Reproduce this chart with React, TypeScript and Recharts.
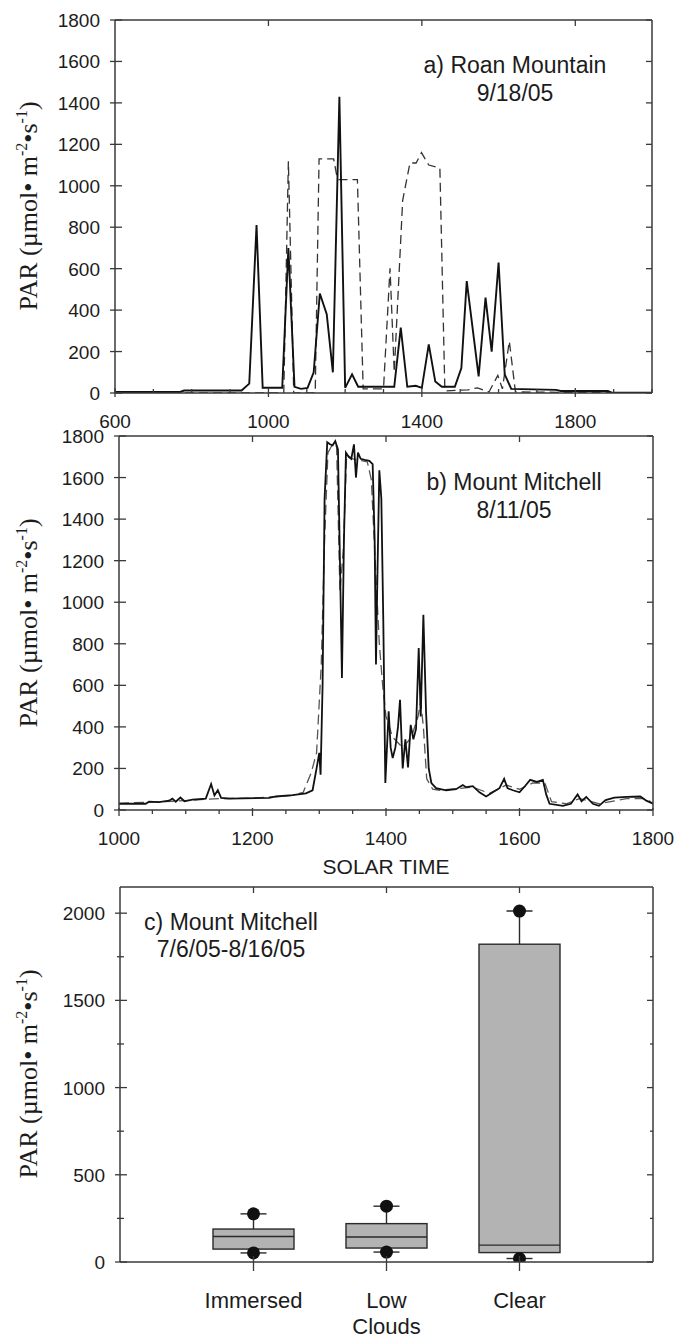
import React from 'react';
import { LineChart, Line, XAxis, YAxis, ComposedChart, Bar, Customized } from 'recharts';

const SANS = '"Liberation Sans", Arial, Helvetica, sans-serif';
const SERIF = '"Liberation Serif", "Times New Roman", Times, serif';
const INK = '#1c1c1c';
const AXIS = '#3a3a3a';

// ---------- Panel a: Roan Mountain 9/18/05 ----------
const roanSolidTime = [600, 770, 780, 930, 950, 969, 985, 1036, 1052, 1068, 1085, 1102, 1118, 1134, 1152, 1168, 1185, 1200, 1218, 1234, 1328, 1345, 1362, 1384, 1400, 1418, 1435, 1452, 1486, 1503, 1517, 1548, 1566, 1582, 1600, 1616, 1633, 1750, 1762, 1885, 1895, 2000];
const roanSolidPAR = [5, 5, 12, 12, 45, 810, 25, 25, 700, 30, 20, 25, 100, 480, 380, 100, 1430, 25, 90, 30, 30, 315, 30, 35, 25, 235, 55, 30, 30, 120, 540, 80, 460, 200, 630, 90, 20, 15, 10, 10, 2, 2];
const roanDashedTime = [600, 1040, 1052, 1058, 1066, 1122, 1132, 1170, 1178, 1182, 1232, 1247, 1300, 1317, 1328, 1350, 1369, 1385, 1399, 1418, 1447, 1460, 1520, 1545, 1575, 1598, 1610, 1628, 1644, 2000];
const roanDashedPAR = [0, 0, 1118, 650, 0, 0, 1130, 1130, 1050, 1030, 1030, 20, 20, 602, 100, 930, 1110, 1110, 1160, 1100, 1085, 10, 15, 25, 5, 85, 20, 250, 5, 0];
const roanXMajor = [600, 1000, 1400, 1800];
const roanXTicks = [600, 700, 800, 900, 1000, 1100, 1200, 1300, 1400, 1500, 1600, 1700, 1800, 1900, 2000];
const roanYTicks = [0, 200, 400, 600, 800, 1000, 1200, 1400, 1600, 1800];

// ---------- Panel b: Mount Mitchell 8/11/05 ----------
const mitchSolidTime = [1000, 1040, 1045, 1060, 1075, 1080, 1085, 1092, 1098, 1110, 1130, 1138, 1143, 1148, 1153, 1165, 1225, 1235, 1260, 1280, 1290, 1296, 1300, 1302, 1305, 1308, 1312, 1316, 1320, 1324, 1328, 1331, 1334, 1337, 1340, 1344, 1348, 1352, 1355, 1358, 1362, 1368, 1375, 1380, 1383, 1385, 1387, 1390, 1393, 1396, 1399, 1404, 1407, 1410, 1414, 1418, 1421, 1425, 1429, 1433, 1437, 1441, 1445, 1449, 1452, 1456, 1460, 1464, 1468, 1475, 1490, 1505, 1515, 1520, 1530, 1540, 1550, 1560, 1570, 1577, 1582, 1590, 1600, 1609, 1616, 1626, 1635, 1640, 1645, 1665, 1677, 1687, 1693, 1700, 1710, 1719, 1729, 1742, 1761, 1781, 1790, 1800];
const mitchSolidPAR = [30, 30, 40, 38, 45, 55, 40, 60, 42, 50, 55, 125, 70, 95, 58, 55, 58, 65, 72, 80, 95, 200, 275, 170, 600, 1500, 1770, 1760, 1755, 1775, 1735, 1200, 635, 1300, 1720, 1700, 1690, 1760, 1600, 1720, 1690, 1685, 1680, 1665, 1300, 700, 1100, 1635, 1500, 900, 130, 475, 300, 250, 300, 400, 530, 200, 340, 205, 410, 340, 390, 780, 450, 940, 470, 200, 130, 105, 95, 100, 120, 110, 115, 85, 65, 85, 105, 150, 105, 95, 85, 118, 145, 135, 145, 75, 30, 20, 30, 75, 42, 63, 30, 20, 48, 60, 63, 65, 45, 30];
const mitchDashedTime = [1000, 1080, 1150, 1200, 1260, 1276, 1288, 1296, 1303, 1308, 1313, 1320, 1326, 1331, 1336, 1341, 1350, 1365, 1372, 1378, 1385, 1390, 1395, 1400, 1410, 1425, 1438, 1448, 1452, 1456, 1461, 1470, 1480, 1530, 1555, 1580, 1600, 1620, 1638, 1648, 1670, 1690, 1720, 1760, 1790, 1800];
const mitchDashedPAR = [32, 42, 55, 57, 70, 85, 180, 275, 700, 1300, 1720, 1760, 1750, 1050, 1250, 1710, 1690, 1680, 1675, 1590, 1120, 800, 600, 450, 350, 300, 350, 450, 520, 400, 150, 100, 95, 110, 80, 120, 100, 130, 130, 40, 30, 55, 30, 55, 55, 30];
const mitchXMajor = [1000, 1200, 1400, 1600, 1800];
const mitchXTicks = [1000, 1050, 1100, 1150, 1200, 1250, 1300, 1350, 1400, 1450, 1500, 1550, 1600, 1650, 1700, 1750, 1800];
const mitchYTicks = [0, 200, 400, 600, 800, 1000, 1200, 1400, 1600, 1800];

// ---------- Panel c: Mount Mitchell 7/6/05-8/16/05 ----------
const boxCategories = ['Immersed', 'Low Clouds', 'Clear'];
const boxP5 = [52, 57, 20];
const boxQ1 = [74, 80, 54];
const boxMedian = [146, 143, 97];
const boxQ3 = [189, 220, 1822];
const boxP95 = [276, 320, 2012];
const boxYTicks = [0, 250, 500, 750, 1000, 1250, 1500, 1750, 2000];
const boxYMajor = [0, 500, 1000, 1500, 2000];

const zip = (t: number[], v: number[]) => t.map((x, i) => ({ t: x, v: v[i] }));
const roanSolid = zip(roanSolidTime, roanSolidPAR);
const roanDashed = zip(roanDashedTime, roanDashedPAR);
const mitchSolid = zip(mitchSolidTime, mitchSolidPAR);
const mitchDashed = zip(mitchDashedTime, mitchDashedPAR);
const boxData = boxCategories.map((name, i) => ({
  name,
  range: [boxP5[i], boxP95[i]],
  p5: boxP5[i],
  q1: boxQ1[i],
  med: boxMedian[i],
  q3: boxQ3[i],
  p95: boxP95[i],
}));

const TICK_FS = 19;
const TITLE_FS = 23;

// ---------- tick renderers ----------
const bottomTick = (majors: any[], label: boolean, inMaj: number, outMaj: number, inMin: number, outMin: number) => (p: any) => {
  const { x, y, payload } = p;
  const major = majors.includes(payload.value);
  const a = major ? inMaj : inMin;
  const b = major ? outMaj : outMin;
  return (
    <g>
      <line x1={x} x2={x} y1={y - a} y2={y + b} stroke={AXIS} strokeWidth={1.3} />
      {label && major ? (
        <text x={x} y={y + 35} textAnchor="middle" fontSize={TICK_FS} fontFamily={SANS} fill={INK}>
          {payload.value}
        </text>
      ) : null}
    </g>
  );
};

const catTick = (p: any) => {
  const { x, y, payload } = p;
  const words = String(payload.value).split(' ');
  return (
    <g>
      <line x1={x} x2={x} y1={y - 6} y2={y + 9} stroke={AXIS} strokeWidth={1.3} />
      <text x={x} y={y + 46} textAnchor="middle" fontSize={22} fontFamily={SANS} fill={INK}>
        {words.map((w, i) => (
          <tspan key={i} x={x} dy={i === 0 ? 0 : 26}>
            {w}
          </tspan>
        ))}
      </text>
    </g>
  );
};

const topTick = (majors: any[], len: number, minLen: number) => (p: any) => {
  const { x, y, payload } = p;
  const l = majors.includes(payload.value) ? len : minLen;
  return <line x1={x} x2={x} y1={y} y2={y + l} stroke={AXIS} strokeWidth={1.3} />;
};

const leftTick = (majors: number[]) => (p: any) => {
  const { x, y, payload } = p;
  const major = majors.includes(payload.value);
  return (
    <g>
      <line x1={x - (major ? 5 : 3)} x2={x + (major ? 7 : 4)} y1={y} y2={y} stroke={AXIS} strokeWidth={1.3} />
      {major ? (
        <text x={x - 15} y={y + 7} textAnchor="end" fontSize={TICK_FS} fontFamily={SANS} fill={INK}>
          {payload.value}
        </text>
      ) : null}
    </g>
  );
};

const rightTick = (majors: number[], len: number, minLen: number) => (p: any) => {
  const { x, y, payload } = p;
  const l = majors.includes(payload.value) ? len : minLen;
  return <line x1={x - l} x2={x} y1={y} y2={y} stroke={AXIS} strokeWidth={1.3} />;
};

// ---------- overlay texts ----------
const ParLabel = ({ cy }: { cy: number }) => (
  <text
    transform={`translate(28,${cy}) rotate(-90)`}
    textAnchor="middle"
    dy={9}
    fontFamily={SERIF}
    fontSize={26}
    fill={INK}
  >
    PAR (µmol• m
    <tspan dy={-10} fontSize={16}>-2</tspan>
    <tspan dy={10}>•s</tspan>
    <tspan dy={-10} fontSize={16}>-1</tspan>
    <tspan dy={10}>)</tspan>
  </text>
);

const PanelText = ({ cx, y1, y2, l1, l2, cy, extra }: any) => (
  <g>
    <text x={cx} y={y1} textAnchor="middle" fontSize={TITLE_FS} fontFamily={SANS} fill={INK}>{l1}</text>
    <text x={cx} y={y2} textAnchor="middle" fontSize={TITLE_FS} fontFamily={SANS} fill={INK}>{l2}</text>
    <ParLabel cy={cy} />
    {extra}
  </g>
);

const BoxShape = (props: any) => {
  const { x, y, width, height, payload } = props;
  const top = Math.min(y, y + height);
  const h = Math.abs(height);
  const lo = payload.p5;
  const hi = payload.p95;
  const py = (v: number) => top + (h * (hi - v)) / (hi - lo);
  const cx = x + width / 2;
  const s = { stroke: '#2a2a2a', strokeWidth: 1.4 };
  return (
    <g>
      <line x1={cx} x2={cx} y1={py(hi)} y2={py(payload.q3)} {...s} />
      <line x1={cx} x2={cx} y1={py(payload.q1)} y2={py(lo)} {...s} />
      <line x1={cx - 13} x2={cx + 13} y1={py(hi)} y2={py(hi)} {...s} />
      <line x1={cx - 13} x2={cx + 13} y1={py(lo)} y2={py(lo)} {...s} />
      <rect x={x} y={py(payload.q3)} width={width} height={py(payload.q1) - py(payload.q3)} fill="#b3b3b3" {...s} />
      <line x1={x} x2={x + width} y1={py(payload.med)} y2={py(payload.med)} {...s} />
      <circle cx={cx} cy={py(hi)} r={6.5} fill="#111" />
      <circle cx={cx} cy={py(lo)} r={6.5} fill="#111" />
    </g>
  );
};

const axisLine = { stroke: AXIS, strokeWidth: 1.5 };

export default function App() {
  return (
    <div style={{ position: 'absolute', left: 0, top: 0, width: 684, height: 1340, background: '#fff' }}>
      {/* Panel a */}
      <div style={{ position: 'absolute', left: 0, top: 0 }}>
        <LineChart width={684} height={450} margin={{ top: 19, right: 31, bottom: 27, left: 55 }}>
          <XAxis
            dataKey="t"
            type="number"
            domain={[600, 2000]}
            allowDataOverflow
            ticks={roanXTicks}
            interval={0}
            height={30}
            tickSize={0}
            tickMargin={0}
            tickLine={false}
            axisLine={axisLine}
            tick={bottomTick(roanXMajor, true, 5, 4, 4, 0)}
          />
          <XAxis
            xAxisId="top"
            orientation="top"
            dataKey="t"
            type="number"
            domain={[600, 2000]}
            allowDataOverflow
            ticks={[1000, 1400, 1800]}
            interval={0}
            height={1}
            tickSize={0}
            tickMargin={0}
            tickLine={false}
            axisLine={axisLine}
            tick={topTick([1000, 1400, 1800], 6, 3)}
          />
          <YAxis
            type="number"
            domain={[0, 1800]}
            allowDataOverflow
            ticks={roanYTicks}
            interval={0}
            width={60}
            tickSize={0}
            tickMargin={0}
            tickLine={false}
            axisLine={axisLine}
            tick={leftTick(roanYTicks)}
          />
          <YAxis
            yAxisId="right"
            orientation="right"
            type="number"
            domain={[0, 1800]}
            allowDataOverflow
            ticks={roanYTicks}
            interval={0}
            width={1}
            tickSize={0}
            tickMargin={0}
            tickLine={false}
            axisLine={axisLine}
            tick={rightTick(roanYTicks, 6, 3)}
          />
          <Line data={roanDashed} dataKey="v" type="linear" stroke="#333" strokeWidth={1.3} strokeDasharray="9 5" dot={false} isAnimationActive={false} />
          <Line data={roanSolid} dataKey="v" type="linear" stroke="#111" strokeWidth={1.9} dot={false} isAnimationActive={false} />
          <Customized component={<PanelText cx={515} y1={73} y2={101} l1="a) Roan Mountain" l2="9/18/05" cy={206} />} />
        </LineChart>
      </div>

      {/* Panel b */}
      <div style={{ position: 'absolute', left: 0, top: 425 }}>
        <LineChart width={684} height={475} margin={{ top: 10, right: 30, bottom: 60, left: 59 }}>
          <XAxis
            dataKey="t"
            type="number"
            domain={[1000, 1800]}
            allowDataOverflow
            ticks={mitchXTicks}
            interval={0}
            height={30}
            tickSize={0}
            tickMargin={0}
            tickLine={false}
            axisLine={axisLine}
            tick={bottomTick(mitchXMajor, true, 2, 6, 0, 4)}
          />
          <XAxis
            xAxisId="top"
            orientation="top"
            dataKey="t"
            type="number"
            domain={[1000, 1800]}
            allowDataOverflow
            ticks={[1200, 1400, 1600]}
            interval={0}
            height={1}
            tickSize={0}
            tickMargin={0}
            tickLine={false}
            axisLine={axisLine}
            tick={topTick([1200, 1400, 1600], 6, 3)}
          />
          <YAxis
            type="number"
            domain={[0, 1800]}
            allowDataOverflow
            ticks={mitchYTicks}
            interval={0}
            width={60}
            tickSize={0}
            tickMargin={0}
            tickLine={false}
            axisLine={axisLine}
            tick={leftTick(mitchYTicks)}
          />
          <YAxis
            yAxisId="right"
            orientation="right"
            type="number"
            domain={[0, 1800]}
            allowDataOverflow
            ticks={mitchYTicks}
            interval={0}
            width={1}
            tickSize={0}
            tickMargin={0}
            tickLine={false}
            axisLine={axisLine}
            tick={rightTick(mitchYTicks, 6, 3)}
          />
          <Line data={mitchDashed} dataKey="v" type="linear" stroke="#555" strokeWidth={1.3} strokeDasharray="10 5" dot={false} isAnimationActive={false} />
          <Line data={mitchSolid} dataKey="v" type="linear" stroke="#111" strokeWidth={1.8} dot={false} isAnimationActive={false} />
          <Customized
            component={
              <PanelText
                cx={514}
                y1={65}
                y2={93}
                l1="b) Mount Mitchell"
                l2="8/11/05"
                cy={198}
                extra={
                  <text x={386} y={449} textAnchor="middle" fontSize={21} fontFamily={SANS} fill={INK}>
                    SOLAR TIME
                  </text>
                }
              />
            }
          />
        </LineChart>
      </div>

      {/* Panel c */}
      <div style={{ position: 'absolute', left: 0, top: 870 }}>
        <ComposedChart width={684} height={470} data={boxData} margin={{ top: 16, right: 30, bottom: 48, left: 60 }}>
          <XAxis
            dataKey="name"
            type="category"
            padding={{ left: 67, right: 67 }}
            interval={0}
            height={30}
            tickSize={0}
            tickMargin={0}
            tickLine={false}
            axisLine={axisLine}
            tick={catTick}
          />
          <XAxis
            xAxisId="top"
            orientation="top"
            dataKey="name"
            type="category"
            padding={{ left: 67, right: 67 }}
            interval={0}
            height={1}
            tickSize={0}
            tickMargin={0}
            tickLine={false}
            axisLine={axisLine}
            tick={topTick(boxCategories, 6, 6)}
          />
          <YAxis
            type="number"
            domain={[0, 2150]}
            allowDataOverflow
            ticks={boxYTicks}
            interval={0}
            width={60}
            tickSize={0}
            tickMargin={0}
            tickLine={false}
            axisLine={axisLine}
            tick={leftTick(boxYMajor)}
          />
          <YAxis
            yAxisId="right"
            orientation="right"
            type="number"
            domain={[0, 2150]}
            allowDataOverflow
            ticks={boxYTicks}
            interval={0}
            width={1}
            tickSize={0}
            tickMargin={0}
            tickLine={false}
            axisLine={axisLine}
            tick={rightTick(boxYMajor, 6, 3)}
          />
          <Bar dataKey="range" barSize={81} shape={BoxShape} isAnimationActive={false} />
          <Customized
            component={
              <PanelText cx={231} y1={60} y2={87} l1="c) Mount Mitchell" l2="7/6/05-8/16/05" cy={204} />
            }
          />
        </ComposedChart>
      </div>
    </div>
  );
}
